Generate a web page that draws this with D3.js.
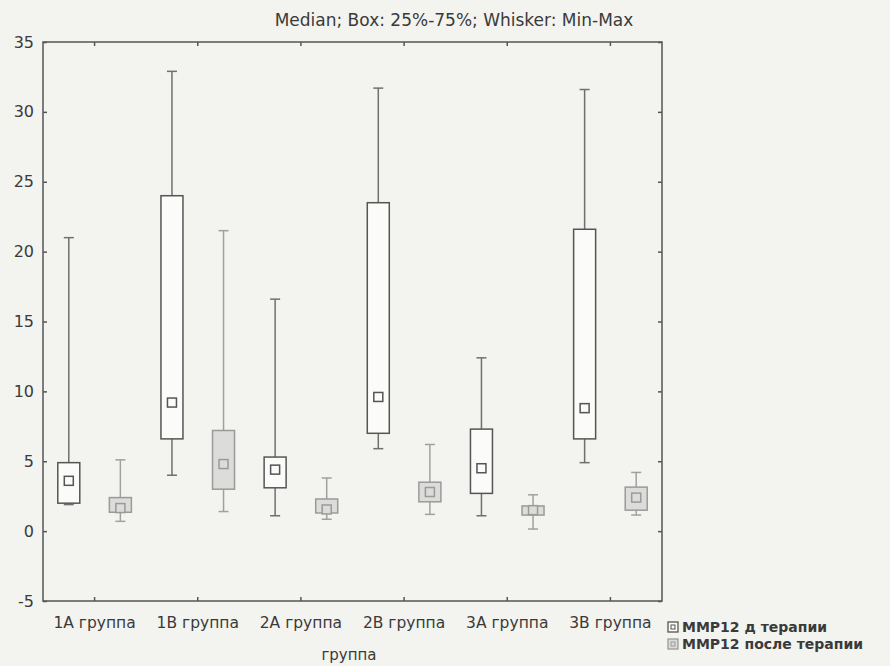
<!DOCTYPE html>
<html>
<head>
<meta charset="utf-8">
<script src="https://cdn.jsdelivr.net/npm/d3@7"></script>
<style>
  html, body { margin: 0; padding: 0; background: #f3f3f0; }
  svg { display: block; }
</style>
</head>
<body>
<div id="chart"></div>
<script>
const categories = ['1A группа', '1B группа', '2A группа', '2B группа', '3A группа', '3B группа']
const seriesNames = ['MMP12 д терапии', 'MMP12 после терапии']
const yTicks = [-5, 0, 5, 10, 15, 20, 25, 30, 35]

// MMP12 before therapy
const beforeMin = [1.9, 4.0, 1.1, 5.9, 1.1, 4.9]
const beforeQ1 = [2.0, 6.6, 3.1, 7.0, 2.7, 6.6]
const beforeMed = [3.6, 9.2, 4.4, 9.6, 4.5, 8.8]
const beforeQ3 = [4.9, 24.0, 5.3, 23.5, 7.3, 21.6]
const beforeMax = [21.0, 32.9, 16.6, 31.7, 12.4, 31.6]

// MMP12 after therapy
const afterMin = [0.7, 1.4, 0.85, 1.2, 0.15, 1.15]
const afterQ1 = [1.35, 3.0, 1.3, 2.1, 1.15, 1.5]
const afterMed = [1.65, 4.8, 1.55, 2.8, 1.5, 2.4]
const afterQ3 = [2.4, 7.2, 2.3, 3.5, 1.8, 3.15]
const afterMax = [5.1, 21.5, 3.8, 6.2, 2.6, 4.2]

const width = 890
const height = 666
const margin = { top: 42, right: 228, bottom: 65, left: 43 }
const FONT = '"DejaVu Sans", Verdana, sans-serif'
const TEXT = '#3a3a3a'

const styles = [
  { stroke: '#555', fill: '#fbfbf9', whisker: '#6f6f6f' },
  { stroke: '#9a9a9a', fill: '#dcdcda', whisker: '#a0a0a0' }
]

const rows = []
categories.forEach((c, i) => {
  rows.push({ cat: c, s: 0, min: beforeMin[i], q1: beforeQ1[i], med: beforeMed[i], q3: beforeQ3[i], max: beforeMax[i] })
  rows.push({ cat: c, s: 1, min: afterMin[i], q1: afterQ1[i], med: afterMed[i], q3: afterQ3[i], max: afterMax[i] })
})

const svg = d3.select('#chart').append('svg')
  .attr('width', width)
  .attr('height', height)

const x = d3.scaleBand()
  .domain(categories)
  .range([margin.left, width - margin.right])

const x1 = d3.scalePoint()
  .domain([0, 1])
  .range([0, x.bandwidth()])
  .padding(0.5)

const y = d3.scaleLinear()
  .domain([-5, 35])
  .range([height - margin.bottom, margin.top])

// title
svg.append('text')
  .attr('x', 454)
  .attr('y', 20)
  .attr('dy', '0.35em')
  .attr('text-anchor', 'middle')
  .style('font', `17px ${FONT}`)
  .attr('fill', TEXT)
  .text('Median; Box: 25%-75%; Whisker: Min-Max')

// axes: inward ticks like Statistica
const axisColor = '#555'
const yAxisL = g => g
  .attr('transform', `translate(${margin.left},0)`)
  .call(d3.axisRight(y).tickValues(yTicks).tickSize(4).tickFormat(''))
  .call(g => g.select('.domain').remove())
const yAxisR = g => g
  .attr('transform', `translate(${width - margin.right},0)`)
  .call(d3.axisLeft(y).tickValues(yTicks).tickSize(4).tickFormat(''))
  .call(g => g.select('.domain').remove())
const xAxisB = g => g
  .attr('transform', `translate(0,${height - margin.bottom})`)
  .call(d3.axisTop(x).tickSize(4).tickFormat(''))
  .call(g => g.select('.domain').remove())
const xAxisT = g => g
  .attr('transform', `translate(0,${margin.top})`)
  .call(d3.axisBottom(x).tickSize(4).tickFormat(''))
  .call(g => g.select('.domain').remove())

;[yAxisL, yAxisR, xAxisB, xAxisT].forEach(a => {
  svg.append('g').call(a).selectAll('line').attr('stroke', axisColor).attr('stroke-width', 1.5)
})

// y labels
svg.append('g')
  .selectAll('text')
  .data(yTicks)
  .join('text')
  .attr('x', margin.left - 9)
  .attr('y', d => y(d))
  .attr('dy', '0.35em')
  .attr('text-anchor', 'end')
  .style('font', `16px ${FONT}`)
  .attr('fill', TEXT)
  .text(d => d)

// x labels
svg.append('g')
  .selectAll('text')
  .data(categories)
  .join('text')
  .attr('x', d => x(d) + x.bandwidth() / 2)
  .attr('y', 623)
  .attr('dy', '0.35em')
  .attr('text-anchor', 'middle')
  .style('font', `15.5px ${FONT}`)
  .attr('fill', TEXT)
  .text(d => d)

svg.append('text')
  .attr('x', 349)
  .attr('y', 655)
  .attr('dy', '0.35em')
  .attr('text-anchor', 'middle')
  .style('font', `15px ${FONT}`)
  .attr('fill', TEXT)
  .text('группа')

// boxes
const boxW = 22
const capW = 10
const medS = 9

const box = svg.append('g')
  .selectAll('g')
  .data(rows)
  .join('g')
  .attr('transform', d => `translate(${x(d.cat) + x1(d.s)},0)`)

box.append('line')
  .attr('y1', d => y(d.max))
  .attr('y2', d => y(d.q3))
  .attr('stroke', d => styles[d.s].whisker)
  .attr('stroke-width', 1.5)
box.append('line')
  .attr('y1', d => y(d.q1))
  .attr('y2', d => y(d.min))
  .attr('stroke', d => styles[d.s].whisker)
  .attr('stroke-width', 1.5)
box.selectAll('.cap')
  .data(d => [d.min, d.max].map(v => ({ v, s: d.s })))
  .join('line')
  .attr('class', 'cap')
  .attr('x1', -capW / 2)
  .attr('x2', capW / 2)
  .attr('y1', d => y(d.v))
  .attr('y2', d => y(d.v))
  .attr('stroke', d => styles[d.s].whisker)
  .attr('stroke-width', 1.5)

box.append('rect')
  .attr('x', -boxW / 2)
  .attr('width', boxW)
  .attr('y', d => y(d.q3))
  .attr('height', d => y(d.q1) - y(d.q3))
  .attr('fill', d => styles[d.s].fill)
  .attr('stroke', d => styles[d.s].stroke)
  .attr('stroke-width', 1.5)

box.append('rect')
  .attr('x', -medS / 2)
  .attr('width', medS)
  .attr('y', d => y(d.med) - medS / 2)
  .attr('height', medS)
  .attr('fill', d => styles[d.s].fill)
  .attr('stroke', d => styles[d.s].stroke)
  .attr('stroke-width', 1.5)

// frame
svg.append('rect')
  .attr('x', margin.left)
  .attr('y', margin.top)
  .attr('width', width - margin.left - margin.right)
  .attr('height', height - margin.top - margin.bottom)
  .attr('fill', 'none')
  .attr('stroke', axisColor)
  .attr('stroke-width', 1.5)

// legend
const legend = svg.selectAll('.legend')
  .data(seriesNames)
  .join('g')
  .attr('class', 'legend')
  .attr('transform', (d, i) => `translate(668, ${627 + i * 17})`)

legend.append('rect')
  .attr('y', -5)
  .attr('width', 10)
  .attr('height', 10)
  .attr('fill', (d, i) => styles[i].fill)
  .attr('stroke', (d, i) => styles[i].stroke)
  .attr('stroke-width', 1.3)
legend.append('rect')
  .attr('x', 3)
  .attr('y', -2)
  .attr('width', 4)
  .attr('height', 4)
  .attr('fill', 'none')
  .attr('stroke', (d, i) => styles[i].stroke)
  .attr('stroke-width', 1)
legend.append('text')
  .attr('x', 14)
  .attr('dy', '0.35em')
  .style('font', `bold 14px ${FONT}`)
  .attr('fill', TEXT)
  .text(d => d)
</script>
</body>
</html>
